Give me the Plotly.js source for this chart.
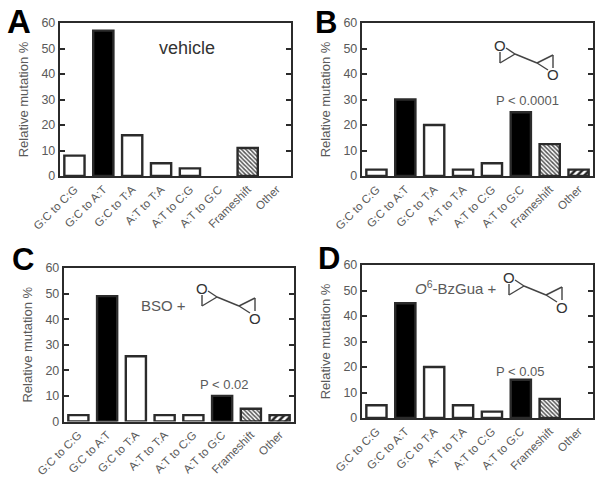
<!DOCTYPE html>
<html><head><meta charset="utf-8">
<script src="https://cdn.plot.ly/plotly-3.0.1.min.js"></script>
<style>html,body{margin:0;padding:0;background:#fff}#c{width:604px;height:479px}</style>
</head><body><div id="c"></div>
<script>
var categories=["G:C to C:G","G:C to A:T","G:C to T:A","A:T to T:A","A:T to C:G","A:T to G:C","Frameshift","Other"];
var valuesA=[8,57,16,5,3,0,11,0];
var valuesB=[2.5,30,20,2.5,5,25,12.5,2.5];
var valuesC=[2.5,49,25.5,2.5,2.5,10,5,2.5];
var valuesD=[5,45,20,5,2.5,15,7.5,0];
var yTicks=[0,10,20,30,40,50,60];
var styleGroups=[
 {cats:["G:C to C:G","G:C to T:A","A:T to T:A","A:T to C:G"],fill:"#fff",shape:"",fg:"#000",size:4},
 {cats:["G:C to A:T","A:T to G:C"],fill:"#000",shape:"",fg:"#000",size:4},
 {cats:["Frameshift"],fill:"#fff",shape:"\\",fg:"#555",size:3},
 {cats:["Other"],fill:"#fff",shape:"/",fg:"#222",size:5}
];
var W=604,H=479;
function px(x){return x/W}
function py(y){return 1-y/H}
var panels=[
 {n:"",v:valuesA,box:[60,291,23,176]},
 {n:"2",v:valuesB,box:[362,593,23,176]},
 {n:"3",v:valuesC,box:[64,294,268,421.5]},
 {n:"4",v:valuesD,box:[362,593,265,418]}
];
var ink="#2b2b2b",grey="#5a5a5a";
var data=[],layout={width:W,height:H,margin:{l:0,r:0,t:0,b:0},paper_bgcolor:"#fff",plot_bgcolor:"#fff",showlegend:false,barmode:"overlay",
 font:{family:"Liberation Sans, Arial, sans-serif",color:grey},shapes:[],annotations:[]};
panels.forEach(function(p){
 styleGroups.forEach(function(g){
  var ys=categories.map(function(c,i){return (g.cats.indexOf(c)>=0&&p.v[i]>0)?p.v[i]:null});
  var mk={color:g.fill,line:{color:ink,width:2.4}};
  if(g.shape)mk.pattern={shape:g.shape,fgcolor:g.fg,bgcolor:"#fff",fgopacity:1,size:g.size,solidity:0.5,fillmode:"replace"};
  data.push({type:"bar",x:categories,y:ys,xaxis:"x"+p.n,yaxis:"y"+p.n,width:0.7,opacity:1,marker:mk,hoverinfo:"x+y"});
 });
 layout["xaxis"+p.n]={domain:[px(p.box[0]),px(p.box[1])],anchor:"y"+p.n,type:"category",categoryorder:"array",categoryarray:categories,range:[-0.5,7.5],
  tickangle:-45,ticks:"",showline:true,linecolor:ink,linewidth:2.4,mirror:true,showgrid:false,zeroline:false,
  tickfont:{size:11.5,color:grey}};
 layout["yaxis"+p.n]={domain:[py(p.box[3]),py(p.box[2])],anchor:"x"+p.n,range:[0,60],tickvals:yTicks,ticktext:yTicks.map(String),
  ticks:"inside",ticklen:5,tickwidth:2,tickcolor:ink,showline:true,linecolor:ink,linewidth:2.4,mirror:"ticks",showgrid:false,zeroline:false,
  tickfont:{size:12.5,color:grey},
  title:{text:"Relative mutation %",font:{size:13,color:grey},standoff:10}};
});
function note(text,x,y,size,color,weight){
 var f={size:size,color:color||grey};
 if(weight){f.weight=weight;f.family="Liberation Sans, Arial, sans-serif";}
 layout.annotations.push({text:text,xref:"paper",yref:"paper",x:px(x),y:py(y),showarrow:false,xanchor:"center",yanchor:"middle",font:f,borderpad:0});
}
note("A",19,22,33,"#000",700);
note("B",326,23,31,"#000",700);
note("C",23,259,31,"#000",700);
note("D",329,258,31,"#000",700);
note("vehicle",187,48,18,"#333");
note("P &lt; 0.0001",527.5,100,13);
note("P &lt; 0.02",224,384,13);
note("P &lt; 0.05",520.5,371,13);
note("BSO +",163.5,305,15);
note("<i>O</i><sup>6</sup>-BzGua +",456,287,15);
function molecule(ox,oy){
 var segs=[[0,7,0,18],[0,18,15,9],[6,3,15,9],[15,9,37,18],[37,18,53,10],[37,18,48,25],[53,10,53,23]];
 segs.forEach(function(s){
  layout.shapes.push({type:"line",xref:"paper",yref:"paper",x0:px(ox+s[0]),y0:py(oy+s[1]),x1:px(ox+s[2]),y1:py(oy+s[3]),
   line:{color:"#444",width:1.4}});
 });
 note("O",ox,oy,15,"#333");
 note("O",ox+53,oy+30,15,"#333");
}
molecule(500,45);
molecule(202,288);
molecule(509,277);
Plotly.newPlot("c",data,layout,{displayModeBar:false});
</script></body></html>
